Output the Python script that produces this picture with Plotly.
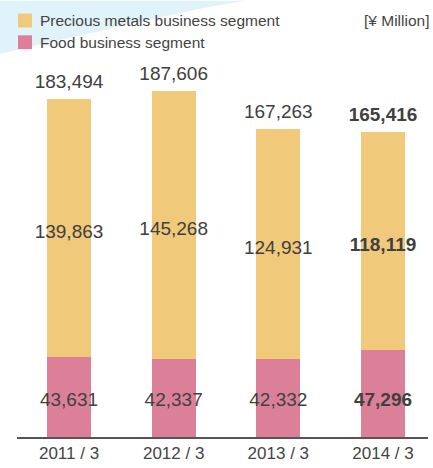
import plotly.graph_objects as go

# Fiscal years and segment net sales (¥ Million)
years = ["2011 / 3", "2012 / 3", "2013 / 3", "2014 / 3"]
food = [43631, 42337, 42332, 47296]
precious = [139863, 145268, 124931, 118119]
totals = [183494, 187606, 167263, 165416]

YELLOW = "#F0C97A"
PINK = "#DC8099"
TEXT = "#404040"
FONT = "Liberation Sans"

def fmt(v):
    return f"{v:,}"

def label_text(vals):
    # latest year is emphasised in bold
    return [f"<b>{fmt(v)}</b>" if i == len(vals) - 1 else fmt(v) for i, v in enumerate(vals)]

fig = go.Figure()

fig.add_trace(go.Bar(
    x=years, y=food, name="Food business segment",
    marker=dict(color=PINK, line=dict(width=0)), width=0.42,
    hoverinfo="skip",
))
fig.add_trace(go.Bar(
    x=years, y=precious, name="Precious metals business segment",
    marker=dict(color=YELLOW, line=dict(width=0)), width=0.42,
    hoverinfo="skip",
))

# value labels: food near the base, precious metals mid-segment, totals above
fig.add_trace(go.Scatter(
    x=years, y=[19300] * len(years), mode="text",
    text=label_text(food), textfont=dict(family=FONT, size=19, color=TEXT),
    showlegend=False, hoverinfo="skip",
))
fig.add_trace(go.Scatter(
    x=years, y=[f + p / 2 - 3000 for f, p in zip(food, precious)], mode="text",
    text=label_text(precious), textfont=dict(family=FONT, size=19, color=TEXT),
    showlegend=False, hoverinfo="skip",
))
fig.add_trace(go.Scatter(
    x=years, y=[t + 8500 for t in totals], mode="text",
    text=label_text(totals), textfont=dict(family=FONT, size=19, color=TEXT),
    showlegend=False, hoverinfo="skip",
))

L, R, T, B = 17, 5, 60, 26
W, H = 433, 468
pw, ph = W - L - R, H - T - B

def px(x, y):
    return (x - L) / pw, (H - B - y) / ph

# light blue swoosh in the top-left corner
pts = [(0, 0), (245, 0), (205, 7), (150, 19), (90, 33), (40, 44), (0, 54)]
path = "M " + " L ".join(f"{px(x, y)[0]:.4f},{px(x, y)[1]:.4f}" for x, y in pts) + " Z"
shapes = [dict(type="path", xref="paper", yref="paper", path=path,
               fillcolor="#E0F2FA", line=dict(width=0), layer="below")]

# legend swatches
for (cy, col) in [(20, YELLOW), (42, PINK)]:
    x0, y1 = px(18, cy - 7)
    x1, y0 = px(32, cy + 7)
    shapes.append(dict(type="rect", xref="paper", yref="paper",
                       x0=x0, x1=x1, y0=y0, y1=y1,
                       fillcolor=col, line=dict(width=0)))

annotations = []
for cy, txt in [(20, "Precious metals business segment"), (42, "Food business segment")]:
    ax, ay = px(38, cy)
    annotations.append(dict(x=ax, y=ay, xref="paper", yref="paper", text=txt,
                            showarrow=False, xanchor="left", yanchor="middle",
                            font=dict(family=FONT, size=15.5, color="#444")))
ux, uy = px(431, 20)
annotations.append(dict(x=ux, y=uy, xref="paper", yref="paper", text="[¥ Million]",
                        showarrow=False, xanchor="right", yanchor="middle",
                        font=dict(family=FONT, size=15.5, color="#444")))

fig.update_layout(
    width=W, height=H,
    margin=dict(l=L, r=R, t=T, b=B, pad=0),
    barmode="stack",
    plot_bgcolor="white", paper_bgcolor="white",
    showlegend=False,
    shapes=shapes, annotations=annotations,
    xaxis=dict(range=[-0.497, 3.43], showgrid=False, zeroline=False,
               showline=True, linecolor="#555", linewidth=1.5,
               ticks="", tickfont=dict(family=FONT, size=17, color="#444")),
    yaxis=dict(range=[0, 204600], visible=False, showgrid=False, zeroline=False),
)

fig.write_html("out.html")
